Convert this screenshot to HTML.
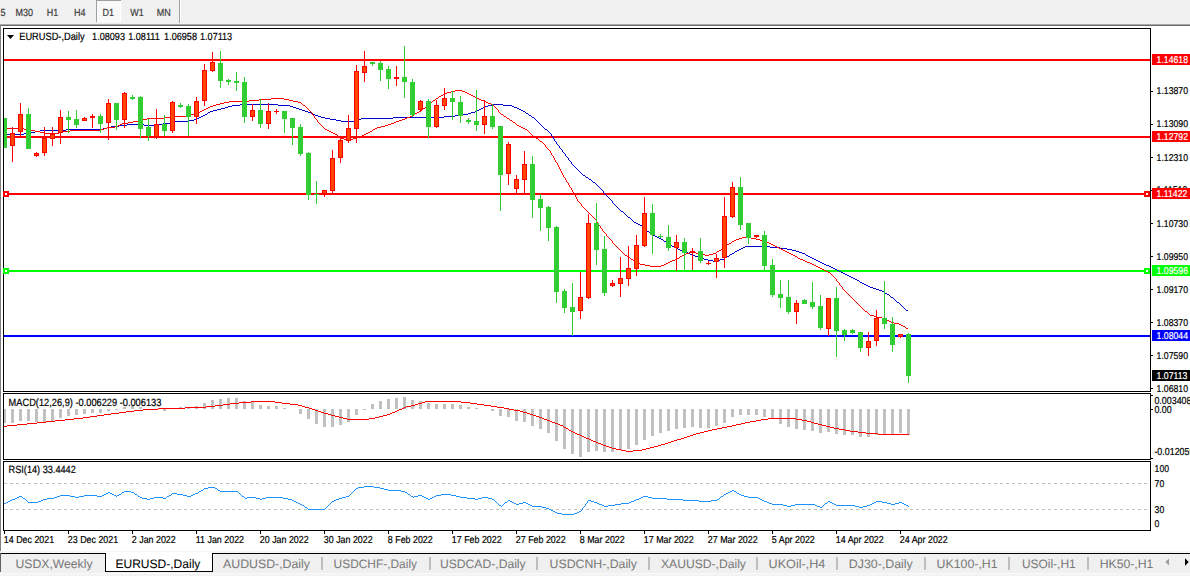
<!DOCTYPE html><html><head><meta charset="utf-8"><title>EURUSD-,Daily</title><style>html,body{margin:0;padding:0;background:#fff;overflow:hidden}svg text{white-space:pre}</style></head><body><svg width="1190" height="576" viewBox="0 0 1190 576" font-family="'Liberation Sans', sans-serif" text-rendering="geometricPrecision" style="display:block"><rect x="0" y="0" width="1190" height="576" fill="#fff"/>
<rect x="0" y="0" width="1190" height="24" fill="#f0f0f0"/>
<rect x="0" y="24" width="1190" height="1" fill="#a8a8a8"/>
<rect x="0" y="25" width="1190" height="1" fill="#696969"/>
<rect x="0" y="25" width="1" height="528" fill="#808080"/>
<rect x="96" y="0" width="25" height="22" fill="#f8f8f8"/>
<rect x="96" y="0" width="25" height="1" fill="#a0a0a0"/>
<rect x="96" y="0" width="1" height="22" fill="#a0a0a0"/>
<rect x="120" y="1" width="1" height="21" fill="#ffffff"/>
<rect x="97" y="21" width="24" height="1" fill="#ffffff"/>
<rect x="179" y="0" width="1" height="23" fill="#a0a0a0"/>
<rect x="180" y="0" width="1" height="23" fill="#ffffff"/>
<text transform="translate(0.5,15.7) scale(0.8696,1)" font-size="10.350" fill="#3c3c3c" stroke="#3c3c3c" stroke-width="0.2">5</text>
<text transform="translate(15.6,15.7) scale(0.8696,1)" font-size="10.350" fill="#3c3c3c" stroke="#3c3c3c" stroke-width="0.2">M30</text>
<text transform="translate(46.7,15.7) scale(0.8696,1)" font-size="10.350" fill="#3c3c3c" stroke="#3c3c3c" stroke-width="0.2">H1</text>
<text transform="translate(74,15.7) scale(0.8696,1)" font-size="10.350" fill="#3c3c3c" stroke="#3c3c3c" stroke-width="0.2">H4</text>
<text transform="translate(102.5,15.7) scale(0.8696,1)" font-size="10.350" fill="#3c3c3c" stroke="#3c3c3c" stroke-width="0.2">D1</text>
<text transform="translate(130.3,15.7) scale(0.8696,1)" font-size="10.350" fill="#3c3c3c" stroke="#3c3c3c" stroke-width="0.2">W1</text>
<text transform="translate(156.8,15.7) scale(0.8696,1)" font-size="10.350" fill="#3c3c3c" stroke="#3c3c3c" stroke-width="0.2">MN</text>
<rect x="3" y="28" width="1148" height="1" fill="#000"/>
<rect x="3" y="391" width="1148" height="1" fill="#000"/>
<rect x="3" y="28" width="1" height="364" fill="#000"/>
<rect x="1150" y="28" width="1" height="364" fill="#000"/>
<rect x="3" y="393" width="1148" height="1" fill="#000"/>
<rect x="3" y="459" width="1148" height="1" fill="#000"/>
<rect x="3" y="393" width="1" height="67" fill="#000"/>
<rect x="1150" y="393" width="1" height="67" fill="#000"/>
<rect x="3" y="461" width="1148" height="1" fill="#000"/>
<rect x="3" y="530" width="1148" height="1" fill="#000"/>
<rect x="3" y="461" width="1" height="70" fill="#000"/>
<rect x="1150" y="461" width="1" height="70" fill="#000"/>
<g shape-rendering="crispEdges">
<rect x="4" y="59" width="1146" height="2" fill="#ff0000"/>
<rect x="4" y="136" width="1146" height="2" fill="#ff0000"/>
<rect x="4" y="193" width="1146" height="2" fill="#ff0000"/>
<rect x="4" y="270" width="1146" height="2" fill="#00ff00"/>
<rect x="4" y="335" width="1146" height="2" fill="#0000ff"/>
</g>
<path d="M4 134h20v1h-20zM24 133h6v1h-6zM30 132h5v1h-5zM35 131h5v1h-5zM40 130h26v1h-26zM66 129h37v1h-37zM103 128h4v1h-4zM107 127h4v1h-4zM111 126h8v1h-8zM119 125h8v1h-8zM127 124h17v1h-17zM144 125h10v1h-10zM154 124h9v1h-9zM163 123h8v1h-8zM171 122h4v1h-4zM175 121h13v1h-13zM188 120h6v1h-6zM194 119h3v1h-3zM197 118h2v1h-2zM199 117h2v1h-2zM201 116h2v1h-2zM203 115h2v1h-2zM205 114h2v1h-2zM207 113h1v1h-1zM208 112h2v1h-2zM210 111h3v1h-3zM213 110h4v1h-4zM217 109h4v1h-4zM221 108h4v1h-4zM225 107h3v1h-3zM228 106h4v1h-4zM232 105h8v1h-8zM240 104h38v1h-38zM278 105h12v1h-12zM290 106h3v1h-3zM293 107h3v1h-3zM296 108h3v1h-3zM299 109h3v1h-3zM302 110h3v1h-3zM305 111h3v1h-3zM308 112h3v1h-3zM311 113h2v1h-2zM313 114h2v1h-2zM315 115h3v1h-3zM318 116h3v1h-3zM321 117h4v1h-4zM325 118h5v1h-5zM330 119h6v1h-6zM336 120h5v1h-5zM341 121h13v1h-13zM354 120h4v1h-4zM358 119h3v1h-3zM361 118h32v1h-32zM393 117h51v1h-51zM444 116h11v1h-11zM455 115h8v1h-8zM463 114h5v1h-5zM468 113h3v1h-3zM471 112h4v1h-4zM475 111h2v1h-2zM477 110h2v1h-2zM479 109h2v1h-2zM481 108h2v1h-2zM483 107h2v1h-2zM485 106h3v1h-3zM488 105h4v1h-4zM492 104h11v1h-11zM503 105h9v1h-9zM512 106h2v1h-2zM514 107h3v1h-3zM517 108h2v1h-2zM519 109h2v1h-2zM521 110h2v1h-2zM523 111h2v1h-2zM525 112h1v1h-1zM526 113h2v1h-2zM528 114h1v1h-1zM529 115h2v1h-2zM531 116h1v1h-1zM532 117h2v1h-2zM534 118h1v1h-1zM535 119h1v1h-1zM536 120h1v1h-1zM537 121h1v1h-1zM538 122h1v1h-1zM539 123h1v1h-1zM540 124h1v1h-1zM541 125h1v1h-1zM542 126h1v1h-1zM543 127h1v1h-1zM544 128h1v1h-1zM545 129h2v1h-2zM547 130h1v1h-1zM548 131h1v1h-1zM549 132h1v1h-1zM550 133h1v1h-1zM551 134h1v2h-1zM552 136h1v1h-1zM553 137h1v2h-1zM554 139h1v2h-1zM555 141h1v1h-1zM556 142h1v2h-1zM557 144h1v1h-1zM558 145h1v1h-1zM559 146h1v2h-1zM560 148h1v1h-1zM561 149h1v1h-1zM562 150h1v2h-1zM563 152h1v1h-1zM564 153h1v1h-1zM565 154h1v2h-1zM566 156h1v1h-1zM567 157h1v1h-1zM568 158h1v2h-1zM569 160h1v1h-1zM570 161h1v1h-1zM571 162h1v2h-1zM572 164h1v1h-1zM573 165h1v1h-1zM574 166h1v1h-1zM575 167h1v1h-1zM576 168h1v1h-1zM577 169h1v1h-1zM578 170h1v1h-1zM579 171h1v1h-1zM580 172h1v1h-1zM581 173h1v1h-1zM582 174h1v1h-1zM583 175h2v1h-2zM585 176h1v1h-1zM586 177h2v1h-2zM588 178h1v1h-1zM589 179h2v1h-2zM591 180h1v1h-1zM592 181h1v1h-1zM593 182h2v1h-2zM595 183h1v1h-1zM596 184h1v1h-1zM597 185h1v1h-1zM598 186h1v1h-1zM599 187h1v1h-1zM600 188h1v1h-1zM601 189h1v1h-1zM602 190h1v1h-1zM603 191h1v2h-1zM604 193h1v1h-1zM605 194h1v1h-1zM606 195h1v1h-1zM607 196h1v1h-1zM608 197h1v1h-1zM609 198h1v1h-1zM610 199h1v1h-1zM611 200h1v1h-1zM612 201h1v2h-1zM613 203h1v1h-1zM614 204h1v1h-1zM615 205h1v1h-1zM616 206h1v1h-1zM617 207h1v1h-1zM618 208h1v1h-1zM619 209h1v1h-1zM620 210h1v1h-1zM621 211h2v1h-2zM623 212h1v1h-1zM624 213h1v1h-1zM625 214h1v1h-1zM626 215h1v1h-1zM627 216h1v1h-1zM628 217h2v1h-2zM630 218h1v1h-1zM631 219h1v1h-1zM632 220h1v1h-1zM633 221h1v1h-1zM634 222h2v1h-2zM636 223h2v1h-2zM638 224h2v1h-2zM640 225h2v1h-2zM642 226h1v1h-1zM643 227h1v1h-1zM644 228h1v1h-1zM645 229h1v1h-1zM646 230h1v1h-1zM647 231h2v1h-2zM649 232h1v1h-1zM650 233h1v1h-1zM651 234h2v1h-2zM653 235h2v1h-2zM655 236h2v1h-2zM657 237h2v1h-2zM659 238h2v1h-2zM661 239h2v1h-2zM663 240h1v1h-1zM664 241h2v1h-2zM666 242h1v1h-1zM667 243h2v1h-2zM669 244h1v1h-1zM670 245h2v1h-2zM672 246h2v1h-2zM674 247h2v1h-2zM676 248h2v1h-2zM678 249h2v1h-2zM680 250h3v1h-3zM683 251h2v1h-2zM685 252h3v1h-3zM688 253h2v1h-2zM690 254h3v1h-3zM693 255h2v1h-2zM695 256h3v1h-3zM698 257h3v1h-3zM701 258h3v1h-3zM704 259h4v1h-4zM708 260h5v1h-5zM713 261h1v1h-1zM714 260h6v1h-6zM720 259h4v1h-4zM724 258h1v1h-1zM725 257h2v1h-2zM727 256h2v1h-2zM729 255h1v1h-1zM730 254h2v1h-2zM732 253h2v1h-2zM734 252h1v1h-1zM735 251h2v1h-2zM737 250h2v1h-2zM739 249h2v1h-2zM741 248h2v1h-2zM743 247h2v1h-2zM745 246h25v1h-25zM770 247h10v1h-10zM780 248h7v1h-7zM787 249h5v1h-5zM792 250h4v1h-4zM796 251h3v1h-3zM799 252h3v1h-3zM802 253h3v1h-3zM805 254h1v1h-1zM806 255h2v1h-2zM808 256h2v1h-2zM810 257h2v1h-2zM812 258h2v1h-2zM814 259h2v1h-2zM816 260h2v1h-2zM818 261h2v1h-2zM820 262h2v1h-2zM822 263h2v1h-2zM824 264h2v1h-2zM826 265h3v1h-3zM829 266h2v1h-2zM831 267h2v1h-2zM833 268h2v1h-2zM835 269h2v1h-2zM837 270h2v1h-2zM839 271h2v1h-2zM841 272h2v1h-2zM843 273h2v1h-2zM845 274h2v1h-2zM847 275h2v1h-2zM849 276h2v1h-2zM851 277h2v1h-2zM853 278h2v1h-2zM855 279h2v1h-2zM857 280h2v1h-2zM859 281h1v1h-1zM860 282h2v1h-2zM862 283h2v1h-2zM864 284h2v1h-2zM866 285h2v1h-2zM868 286h2v1h-2zM870 287h3v1h-3zM873 288h3v1h-3zM876 289h3v1h-3zM879 290h3v1h-3zM882 291h2v1h-2zM884 292h1v1h-1zM885 293h2v1h-2zM887 294h2v1h-2zM889 295h1v1h-1zM890 296h1v1h-1zM891 297h2v1h-2zM893 298h1v1h-1zM894 299h1v1h-1zM895 300h1v1h-1zM896 301h1v1h-1zM897 302h2v1h-2zM899 303h1v1h-1zM900 304h1v1h-1zM901 305h1v1h-1zM902 306h1v1h-1zM903 307h1v1h-1zM904 308h1v1h-1zM905 309h1v1h-1zM906 310h2v1h-2z" fill="#0000cd" shape-rendering="crispEdges"/>
<path d="M4 128h20v1h-20zM24 129h6v1h-6zM30 130h5v1h-5zM35 131h5v1h-5zM40 132h5v1h-5zM45 133h14v1h-14zM59 132h4v1h-4zM63 131h7v1h-7zM70 130h31v1h-31zM101 129h3v1h-3zM104 128h3v1h-3zM107 127h8v1h-8zM115 126h3v1h-3zM118 125h2v1h-2zM120 124h2v1h-2zM122 123h6v1h-6zM128 122h5v1h-5zM133 121h6v1h-6zM139 120h4v1h-4zM143 119h4v1h-4zM147 118h17v1h-17zM164 117h11v1h-11zM175 116h12v1h-12zM187 115h4v1h-4zM191 114h4v1h-4zM195 113h2v1h-2zM197 112h3v1h-3zM200 111h2v1h-2zM202 110h2v1h-2zM204 109h2v1h-2zM206 108h2v1h-2zM208 107h2v1h-2zM210 106h3v1h-3zM213 105h3v1h-3zM216 104h4v1h-4zM220 103h4v1h-4zM224 102h5v1h-5zM229 101h20v1h-20zM249 100h10v1h-10zM259 99h12v1h-12zM271 98h13v1h-13zM284 99h5v1h-5zM289 100h4v1h-4zM293 101h5v1h-5zM298 102h3v1h-3zM301 103h1v1h-1zM302 104h1v1h-1zM303 105h2v1h-2zM305 106h1v1h-1zM306 107h1v1h-1zM307 108h1v1h-1zM308 109h1v1h-1zM309 110h1v1h-1zM310 111h1v1h-1zM311 112h1v1h-1zM312 113h1v2h-1zM313 115h1v1h-1zM314 116h1v2h-1zM315 118h1v1h-1zM316 119h1v1h-1zM317 120h1v2h-1zM318 122h1v1h-1zM319 123h1v1h-1zM320 124h1v1h-1zM321 125h1v1h-1zM322 126h1v1h-1zM323 127h1v1h-1zM324 128h1v1h-1zM325 129h2v1h-2zM327 130h2v1h-2zM329 131h2v1h-2zM331 132h2v1h-2zM333 133h2v1h-2zM335 134h2v1h-2zM337 135h1v1h-1zM338 136h1v1h-1zM339 137h2v1h-2zM341 138h3v1h-3zM344 139h9v1h-9zM353 138h4v1h-4zM357 137h3v1h-3zM360 136h2v1h-2zM362 135h2v1h-2zM364 134h2v1h-2zM366 133h2v1h-2zM368 132h2v1h-2zM370 131h2v1h-2zM372 130h1v1h-1zM373 129h2v1h-2zM375 128h2v1h-2zM377 127h4v1h-4zM381 126h4v1h-4zM385 125h3v1h-3zM388 124h3v1h-3zM391 123h3v1h-3zM394 122h2v1h-2zM396 121h3v1h-3zM399 120h3v1h-3zM402 119h3v1h-3zM405 118h2v1h-2zM407 117h3v1h-3zM410 116h2v1h-2zM412 115h2v1h-2zM414 114h1v1h-1zM415 113h2v1h-2zM417 112h2v1h-2zM419 111h2v1h-2zM421 110h1v1h-1zM422 109h1v1h-1zM423 108h2v1h-2zM425 107h1v1h-1zM426 106h1v1h-1zM427 105h1v1h-1zM428 104h1v1h-1zM429 103h2v1h-2zM431 102h1v1h-1zM432 101h1v1h-1zM433 100h2v1h-2zM435 99h1v1h-1zM436 98h2v1h-2zM438 97h1v1h-1zM439 96h2v1h-2zM441 95h2v1h-2zM443 94h2v1h-2zM445 93h2v1h-2zM447 92h4v1h-4zM451 91h4v1h-4zM455 90h7v1h-7zM462 91h3v1h-3zM465 92h2v1h-2zM467 93h2v1h-2zM469 94h2v1h-2zM471 95h2v1h-2zM473 96h2v1h-2zM475 97h2v1h-2zM477 98h2v1h-2zM479 99h2v1h-2zM481 100h3v1h-3zM484 101h2v1h-2zM486 102h2v1h-2zM488 103h3v1h-3zM491 104h2v1h-2zM493 105h1v1h-1zM494 106h1v1h-1zM495 107h1v1h-1zM496 108h1v1h-1zM497 109h1v1h-1zM498 110h1v2h-1zM499 112h1v1h-1zM500 113h1v1h-1zM501 114h2v1h-2zM503 115h1v1h-1zM504 116h2v1h-2zM506 117h1v1h-1zM507 118h2v1h-2zM509 119h1v1h-1zM510 120h2v1h-2zM512 121h1v1h-1zM513 122h2v1h-2zM515 123h1v1h-1zM516 124h1v1h-1zM517 125h2v1h-2zM519 126h2v1h-2zM521 127h2v1h-2zM523 128h2v1h-2zM525 129h2v1h-2zM527 130h1v1h-1zM528 131h1v1h-1zM529 132h1v1h-1zM530 133h1v1h-1zM531 134h1v1h-1zM532 135h1v1h-1zM533 136h2v1h-2zM535 137h1v1h-1zM536 138h2v1h-2zM538 139h1v1h-1zM539 140h1v1h-1zM540 141h2v1h-2zM542 142h1v1h-1zM543 143h1v1h-1zM544 144h1v1h-1zM545 145h1v2h-1zM546 147h1v1h-1zM547 148h1v1h-1zM548 149h1v1h-1zM549 150h1v1h-1zM550 151h1v2h-1zM551 153h1v2h-1zM552 155h1v1h-1zM553 156h1v2h-1zM554 158h1v2h-1zM555 160h1v2h-1zM556 162h1v1h-1zM557 163h1v2h-1zM558 165h1v2h-1zM559 167h1v2h-1zM560 169h1v2h-1zM561 171h1v2h-1zM562 173h1v2h-1zM563 175h1v2h-1zM564 177h1v1h-1zM565 178h1v2h-1zM566 180h1v2h-1zM567 182h1v1h-1zM568 183h1v2h-1zM569 185h1v2h-1zM570 187h1v1h-1zM571 188h1v2h-1zM572 190h1v2h-1zM573 192h1v2h-1zM574 194h1v1h-1zM575 195h1v2h-1zM576 197h1v2h-1zM577 199h1v2h-1zM578 201h1v1h-1zM579 202h1v1h-1zM580 203h1v1h-1zM581 204h1v2h-1zM582 206h1v1h-1zM583 207h1v1h-1zM584 208h1v1h-1zM585 209h1v1h-1zM586 210h1v1h-1zM587 211h1v1h-1zM588 212h1v1h-1zM589 213h1v1h-1zM590 214h1v1h-1zM591 215h1v1h-1zM592 216h1v1h-1zM593 217h1v1h-1zM594 218h1v1h-1zM595 219h1v1h-1zM596 220h1v2h-1zM597 222h1v1h-1zM598 223h1v2h-1zM599 225h1v1h-1zM600 226h1v2h-1zM601 228h1v1h-1zM602 229h1v2h-1zM603 231h1v1h-1zM604 232h1v1h-1zM605 233h1v1h-1zM606 234h1v2h-1zM607 236h1v1h-1zM608 237h1v1h-1zM609 238h1v1h-1zM610 239h1v1h-1zM611 240h1v1h-1zM612 241h1v2h-1zM613 243h1v1h-1zM614 244h1v1h-1zM615 245h1v1h-1zM616 246h1v1h-1zM617 247h1v1h-1zM618 248h1v1h-1zM619 249h1v1h-1zM620 250h1v1h-1zM621 251h1v1h-1zM622 252h1v1h-1zM623 253h1v1h-1zM624 254h1v1h-1zM625 255h2v1h-2zM627 256h1v1h-1zM628 257h2v1h-2zM630 258h1v1h-1zM631 259h2v1h-2zM633 260h1v1h-1zM634 261h2v1h-2zM636 262h2v1h-2zM638 263h2v1h-2zM640 264h5v1h-5zM645 265h5v1h-5zM650 266h11v1h-11zM661 265h3v1h-3zM664 264h2v1h-2zM666 263h2v1h-2zM668 262h2v1h-2zM670 261h2v1h-2zM672 260h3v1h-3zM675 259h2v1h-2zM677 258h2v1h-2zM679 257h1v1h-1zM680 256h2v1h-2zM682 255h2v1h-2zM684 254h2v1h-2zM686 253h3v1h-3zM689 252h7v1h-7zM696 253h4v1h-4zM700 254h5v1h-5zM705 255h4v1h-4zM709 254h4v1h-4zM713 253h3v1h-3zM716 252h1v1h-1zM717 251h2v1h-2zM719 250h2v1h-2zM721 249h1v1h-1zM722 248h2v1h-2zM724 247h1v1h-1zM725 246h1v1h-1zM726 245h1v1h-1zM727 244h2v1h-2zM729 243h2v1h-2zM731 242h1v1h-1zM732 241h2v1h-2zM734 240h2v1h-2zM736 239h3v1h-3zM739 238h3v1h-3zM742 237h9v1h-9zM751 238h5v1h-5zM756 239h4v1h-4zM760 240h3v1h-3zM763 241h3v1h-3zM766 242h3v1h-3zM769 243h2v1h-2zM771 244h2v1h-2zM773 245h2v1h-2zM775 246h2v1h-2zM777 247h2v1h-2zM779 248h2v1h-2zM781 249h2v1h-2zM783 250h2v1h-2zM785 251h2v1h-2zM787 252h2v1h-2zM789 253h2v1h-2zM791 254h2v1h-2zM793 255h2v1h-2zM795 256h2v1h-2zM797 257h1v1h-1zM798 258h2v1h-2zM800 259h3v1h-3zM803 260h2v1h-2zM805 261h2v1h-2zM807 262h3v1h-3zM810 263h2v1h-2zM812 264h2v1h-2zM814 265h2v1h-2zM816 266h2v1h-2zM818 267h2v1h-2zM820 268h2v1h-2zM822 269h2v1h-2zM824 270h2v1h-2zM826 271h2v1h-2zM828 272h2v1h-2zM830 273h1v1h-1zM831 274h1v1h-1zM832 275h1v1h-1zM833 276h1v1h-1zM834 277h1v1h-1zM835 278h1v1h-1zM836 279h1v2h-1zM837 281h1v1h-1zM838 282h1v1h-1zM839 283h1v2h-1zM840 285h1v1h-1zM841 286h1v1h-1zM842 287h1v2h-1zM843 289h1v1h-1zM844 290h1v1h-1zM845 291h1v1h-1zM846 292h1v1h-1zM847 293h1v1h-1zM848 294h1v1h-1zM849 295h1v1h-1zM850 296h1v1h-1zM851 297h1v1h-1zM852 298h1v1h-1zM853 299h1v1h-1zM854 300h1v1h-1zM855 301h1v1h-1zM856 302h1v1h-1zM857 303h1v1h-1zM858 304h1v1h-1zM859 305h1v1h-1zM860 306h1v1h-1zM861 307h1v1h-1zM862 308h1v1h-1zM863 309h1v1h-1zM864 310h1v1h-1zM865 311h2v1h-2zM867 312h1v1h-1zM868 313h1v1h-1zM869 314h1v1h-1zM870 315h4v1h-4zM874 316h3v1h-3zM877 317h5v1h-5zM882 318h4v1h-4zM886 319h1v1h-1zM887 320h2v1h-2zM889 321h2v1h-2zM891 322h3v1h-3zM894 323h5v1h-5zM899 324h2v1h-2zM901 325h2v1h-2zM903 326h2v1h-2zM905 327h1v1h-1zM906 328h2v1h-2z" fill="#ff0000" shape-rendering="crispEdges"/>
<g shape-rendering="crispEdges">
<rect x="4" y="118" width="1" height="30" fill="#32cd32"/>
<rect x="4" y="118" width="3" height="30" fill="#32cd32"/>
<rect x="12" y="127" width="1" height="35" fill="#ff0000"/>
<rect x="10" y="133" width="5" height="13" fill="#ff0000"/>
<rect x="11" y="134" width="3" height="11" fill="#ff4500"/>
<rect x="20" y="103" width="1" height="34" fill="#ff0000"/>
<rect x="18" y="114" width="5" height="18" fill="#ff0000"/>
<rect x="19" y="115" width="3" height="16" fill="#ff4500"/>
<rect x="28" y="108" width="1" height="41" fill="#32cd32"/>
<rect x="26" y="114" width="5" height="35" fill="#32cd32"/>
<rect x="36" y="152" width="1" height="5" fill="#ff0000"/>
<rect x="34" y="153" width="5" height="3" fill="#ff0000"/>
<rect x="35" y="154" width="3" height="1" fill="#ff4500"/>
<rect x="44" y="127" width="1" height="29" fill="#ff0000"/>
<rect x="42" y="138" width="5" height="15" fill="#ff0000"/>
<rect x="43" y="139" width="3" height="13" fill="#ff4500"/>
<rect x="52" y="127" width="1" height="19" fill="#ff0000"/>
<rect x="50" y="134" width="5" height="5" fill="#ff0000"/>
<rect x="51" y="135" width="3" height="3" fill="#ff4500"/>
<rect x="60" y="110" width="1" height="34" fill="#ff0000"/>
<rect x="58" y="117" width="5" height="16" fill="#ff0000"/>
<rect x="59" y="118" width="3" height="14" fill="#ff4500"/>
<rect x="68" y="111" width="1" height="22" fill="#32cd32"/>
<rect x="66" y="117" width="5" height="3" fill="#32cd32"/>
<rect x="76" y="110" width="1" height="18" fill="#32cd32"/>
<rect x="74" y="119" width="5" height="6" fill="#32cd32"/>
<rect x="84" y="117" width="1" height="4" fill="#ff0000"/>
<rect x="82" y="118" width="5" height="3" fill="#ff0000"/>
<rect x="83" y="119" width="3" height="1" fill="#ff4500"/>
<rect x="92" y="114" width="1" height="14" fill="#ff0000"/>
<rect x="90" y="116" width="5" height="2" fill="#ff0000"/>
<rect x="100" y="114" width="1" height="19" fill="#32cd32"/>
<rect x="98" y="116" width="5" height="8" fill="#32cd32"/>
<rect x="108" y="99" width="1" height="41" fill="#ff0000"/>
<rect x="106" y="103" width="5" height="20" fill="#ff0000"/>
<rect x="107" y="104" width="3" height="18" fill="#ff4500"/>
<rect x="116" y="103" width="1" height="27" fill="#32cd32"/>
<rect x="114" y="103" width="5" height="17" fill="#32cd32"/>
<rect x="124" y="92" width="1" height="36" fill="#ff0000"/>
<rect x="122" y="93" width="5" height="27" fill="#ff0000"/>
<rect x="123" y="94" width="3" height="25" fill="#ff4500"/>
<rect x="132" y="95" width="1" height="5" fill="#32cd32"/>
<rect x="130" y="97" width="5" height="2" fill="#32cd32"/>
<rect x="140" y="96" width="1" height="42" fill="#32cd32"/>
<rect x="138" y="97" width="5" height="32" fill="#32cd32"/>
<rect x="148" y="119" width="1" height="22" fill="#32cd32"/>
<rect x="146" y="127" width="5" height="9" fill="#32cd32"/>
<rect x="156" y="109" width="1" height="30" fill="#ff0000"/>
<rect x="154" y="124" width="5" height="13" fill="#ff0000"/>
<rect x="155" y="125" width="3" height="11" fill="#ff4500"/>
<rect x="164" y="115" width="1" height="21" fill="#32cd32"/>
<rect x="162" y="124" width="5" height="7" fill="#32cd32"/>
<rect x="172" y="101" width="1" height="32" fill="#ff0000"/>
<rect x="170" y="102" width="5" height="29" fill="#ff0000"/>
<rect x="171" y="103" width="3" height="27" fill="#ff4500"/>
<rect x="180" y="103" width="1" height="5" fill="#32cd32"/>
<rect x="178" y="105" width="5" height="2" fill="#32cd32"/>
<rect x="188" y="104" width="1" height="32" fill="#32cd32"/>
<rect x="186" y="106" width="5" height="11" fill="#32cd32"/>
<rect x="196" y="97" width="1" height="27" fill="#ff0000"/>
<rect x="194" y="101" width="5" height="16" fill="#ff0000"/>
<rect x="195" y="102" width="3" height="14" fill="#ff4500"/>
<rect x="204" y="64" width="1" height="42" fill="#ff0000"/>
<rect x="202" y="70" width="5" height="31" fill="#ff0000"/>
<rect x="203" y="71" width="3" height="29" fill="#ff4500"/>
<rect x="212" y="52" width="1" height="20" fill="#ff0000"/>
<rect x="210" y="62" width="5" height="9" fill="#ff0000"/>
<rect x="211" y="63" width="3" height="7" fill="#ff4500"/>
<rect x="220" y="51" width="1" height="37" fill="#32cd32"/>
<rect x="218" y="63" width="5" height="18" fill="#32cd32"/>
<rect x="228" y="79" width="1" height="6" fill="#32cd32"/>
<rect x="226" y="80" width="5" height="2" fill="#32cd32"/>
<rect x="236" y="72" width="1" height="19" fill="#32cd32"/>
<rect x="234" y="81" width="5" height="2" fill="#32cd32"/>
<rect x="244" y="77" width="1" height="46" fill="#32cd32"/>
<rect x="242" y="82" width="5" height="35" fill="#32cd32"/>
<rect x="252" y="104" width="1" height="17" fill="#ff0000"/>
<rect x="250" y="110" width="5" height="7" fill="#ff0000"/>
<rect x="251" y="111" width="3" height="5" fill="#ff4500"/>
<rect x="260" y="99" width="1" height="29" fill="#32cd32"/>
<rect x="258" y="110" width="5" height="14" fill="#32cd32"/>
<rect x="268" y="103" width="1" height="26" fill="#ff0000"/>
<rect x="266" y="111" width="5" height="13" fill="#ff0000"/>
<rect x="267" y="112" width="3" height="11" fill="#ff4500"/>
<rect x="276" y="109" width="1" height="5" fill="#ff0000"/>
<rect x="274" y="111" width="5" height="1" fill="#ff0000"/>
<rect x="284" y="111" width="1" height="22" fill="#32cd32"/>
<rect x="282" y="111" width="5" height="8" fill="#32cd32"/>
<rect x="292" y="118" width="1" height="27" fill="#32cd32"/>
<rect x="290" y="118" width="5" height="10" fill="#32cd32"/>
<rect x="300" y="124" width="1" height="32" fill="#32cd32"/>
<rect x="298" y="127" width="5" height="27" fill="#32cd32"/>
<rect x="308" y="152" width="1" height="48" fill="#32cd32"/>
<rect x="306" y="153" width="5" height="42" fill="#32cd32"/>
<rect x="316" y="181" width="1" height="23" fill="#32cd32"/>
<rect x="314" y="194" width="5" height="1" fill="#32cd32"/>
<rect x="324" y="190" width="1" height="7" fill="#ff0000"/>
<rect x="322" y="190" width="5" height="4" fill="#ff0000"/>
<rect x="323" y="191" width="3" height="2" fill="#ff4500"/>
<rect x="332" y="150" width="1" height="43" fill="#ff0000"/>
<rect x="330" y="158" width="5" height="33" fill="#ff0000"/>
<rect x="331" y="159" width="3" height="31" fill="#ff4500"/>
<rect x="340" y="138" width="1" height="25" fill="#ff0000"/>
<rect x="338" y="140" width="5" height="18" fill="#ff0000"/>
<rect x="339" y="141" width="3" height="16" fill="#ff4500"/>
<rect x="348" y="115" width="1" height="28" fill="#ff0000"/>
<rect x="346" y="128" width="5" height="13" fill="#ff0000"/>
<rect x="347" y="129" width="3" height="11" fill="#ff4500"/>
<rect x="356" y="65" width="1" height="78" fill="#ff0000"/>
<rect x="354" y="71" width="5" height="58" fill="#ff0000"/>
<rect x="355" y="72" width="3" height="56" fill="#ff4500"/>
<rect x="364" y="51" width="1" height="31" fill="#ff0000"/>
<rect x="362" y="66" width="5" height="7" fill="#ff0000"/>
<rect x="363" y="67" width="3" height="5" fill="#ff4500"/>
<rect x="372" y="62" width="1" height="4" fill="#32cd32"/>
<rect x="370" y="62" width="5" height="2" fill="#32cd32"/>
<rect x="380" y="61" width="1" height="20" fill="#32cd32"/>
<rect x="378" y="63" width="5" height="7" fill="#32cd32"/>
<rect x="388" y="66" width="1" height="23" fill="#32cd32"/>
<rect x="386" y="69" width="5" height="10" fill="#32cd32"/>
<rect x="396" y="66" width="1" height="20" fill="#ff0000"/>
<rect x="394" y="77" width="5" height="2" fill="#ff0000"/>
<rect x="404" y="46" width="1" height="52" fill="#32cd32"/>
<rect x="402" y="77" width="5" height="5" fill="#32cd32"/>
<rect x="412" y="79" width="1" height="38" fill="#32cd32"/>
<rect x="410" y="82" width="5" height="33" fill="#32cd32"/>
<rect x="420" y="100" width="1" height="12" fill="#ff0000"/>
<rect x="418" y="101" width="5" height="9" fill="#ff0000"/>
<rect x="419" y="102" width="3" height="7" fill="#ff4500"/>
<rect x="428" y="99" width="1" height="39" fill="#32cd32"/>
<rect x="426" y="101" width="5" height="26" fill="#32cd32"/>
<rect x="436" y="100" width="1" height="28" fill="#ff0000"/>
<rect x="434" y="105" width="5" height="22" fill="#ff0000"/>
<rect x="435" y="106" width="3" height="20" fill="#ff4500"/>
<rect x="444" y="88" width="1" height="22" fill="#ff0000"/>
<rect x="442" y="98" width="5" height="8" fill="#ff0000"/>
<rect x="443" y="99" width="3" height="6" fill="#ff4500"/>
<rect x="452" y="91" width="1" height="29" fill="#32cd32"/>
<rect x="450" y="98" width="5" height="4" fill="#32cd32"/>
<rect x="460" y="96" width="1" height="27" fill="#32cd32"/>
<rect x="458" y="102" width="5" height="14" fill="#32cd32"/>
<rect x="468" y="118" width="1" height="6" fill="#32cd32"/>
<rect x="466" y="120" width="5" height="2" fill="#32cd32"/>
<rect x="476" y="90" width="1" height="41" fill="#32cd32"/>
<rect x="474" y="121" width="5" height="4" fill="#32cd32"/>
<rect x="484" y="100" width="1" height="34" fill="#ff0000"/>
<rect x="482" y="116" width="5" height="9" fill="#ff0000"/>
<rect x="483" y="117" width="3" height="7" fill="#ff4500"/>
<rect x="492" y="104" width="1" height="25" fill="#32cd32"/>
<rect x="490" y="116" width="5" height="11" fill="#32cd32"/>
<rect x="500" y="126" width="1" height="85" fill="#32cd32"/>
<rect x="498" y="126" width="5" height="49" fill="#32cd32"/>
<rect x="508" y="142" width="1" height="43" fill="#ff0000"/>
<rect x="506" y="144" width="5" height="30" fill="#ff0000"/>
<rect x="507" y="145" width="3" height="28" fill="#ff4500"/>
<rect x="516" y="175" width="1" height="18" fill="#ff0000"/>
<rect x="514" y="179" width="5" height="10" fill="#ff0000"/>
<rect x="515" y="180" width="3" height="8" fill="#ff4500"/>
<rect x="524" y="151" width="1" height="44" fill="#ff0000"/>
<rect x="522" y="164" width="5" height="16" fill="#ff0000"/>
<rect x="523" y="165" width="3" height="14" fill="#ff4500"/>
<rect x="532" y="156" width="1" height="62" fill="#32cd32"/>
<rect x="530" y="164" width="5" height="36" fill="#32cd32"/>
<rect x="540" y="194" width="1" height="37" fill="#32cd32"/>
<rect x="538" y="199" width="5" height="9" fill="#32cd32"/>
<rect x="548" y="206" width="1" height="35" fill="#32cd32"/>
<rect x="546" y="207" width="5" height="21" fill="#32cd32"/>
<rect x="556" y="226" width="1" height="77" fill="#32cd32"/>
<rect x="554" y="227" width="5" height="65" fill="#32cd32"/>
<rect x="564" y="289" width="1" height="24" fill="#32cd32"/>
<rect x="562" y="291" width="5" height="17" fill="#32cd32"/>
<rect x="572" y="283" width="1" height="53" fill="#32cd32"/>
<rect x="570" y="307" width="5" height="5" fill="#32cd32"/>
<rect x="580" y="272" width="1" height="47" fill="#ff0000"/>
<rect x="578" y="297" width="5" height="14" fill="#ff0000"/>
<rect x="579" y="298" width="3" height="12" fill="#ff4500"/>
<rect x="588" y="214" width="1" height="85" fill="#ff0000"/>
<rect x="586" y="223" width="5" height="75" fill="#ff0000"/>
<rect x="587" y="224" width="3" height="73" fill="#ff4500"/>
<rect x="596" y="203" width="1" height="62" fill="#32cd32"/>
<rect x="594" y="223" width="5" height="27" fill="#32cd32"/>
<rect x="604" y="236" width="1" height="60" fill="#32cd32"/>
<rect x="602" y="249" width="5" height="44" fill="#32cd32"/>
<rect x="612" y="280" width="1" height="7" fill="#ff0000"/>
<rect x="610" y="283" width="5" height="3" fill="#ff0000"/>
<rect x="611" y="284" width="3" height="1" fill="#ff4500"/>
<rect x="620" y="257" width="1" height="40" fill="#ff0000"/>
<rect x="618" y="278" width="5" height="6" fill="#ff0000"/>
<rect x="619" y="279" width="3" height="4" fill="#ff4500"/>
<rect x="628" y="246" width="1" height="40" fill="#ff0000"/>
<rect x="626" y="268" width="5" height="11" fill="#ff0000"/>
<rect x="627" y="269" width="3" height="9" fill="#ff4500"/>
<rect x="636" y="235" width="1" height="41" fill="#ff0000"/>
<rect x="634" y="245" width="5" height="24" fill="#ff0000"/>
<rect x="635" y="246" width="3" height="22" fill="#ff4500"/>
<rect x="644" y="197" width="1" height="50" fill="#ff0000"/>
<rect x="642" y="213" width="5" height="33" fill="#ff0000"/>
<rect x="643" y="214" width="3" height="31" fill="#ff4500"/>
<rect x="652" y="204" width="1" height="50" fill="#32cd32"/>
<rect x="650" y="213" width="5" height="22" fill="#32cd32"/>
<rect x="660" y="234" width="1" height="4" fill="#32cd32"/>
<rect x="658" y="236" width="5" height="1" fill="#32cd32"/>
<rect x="668" y="225" width="1" height="26" fill="#32cd32"/>
<rect x="666" y="237" width="5" height="11" fill="#32cd32"/>
<rect x="676" y="235" width="1" height="36" fill="#ff0000"/>
<rect x="674" y="242" width="5" height="6" fill="#ff0000"/>
<rect x="675" y="243" width="3" height="4" fill="#ff4500"/>
<rect x="684" y="238" width="1" height="33" fill="#32cd32"/>
<rect x="682" y="242" width="5" height="11" fill="#32cd32"/>
<rect x="692" y="248" width="1" height="22" fill="#ff0000"/>
<rect x="690" y="251" width="5" height="1" fill="#ff0000"/>
<rect x="700" y="238" width="1" height="25" fill="#32cd32"/>
<rect x="698" y="251" width="5" height="10" fill="#32cd32"/>
<rect x="708" y="261" width="1" height="4" fill="#ff0000"/>
<rect x="706" y="263" width="5" height="1" fill="#ff0000"/>
<rect x="716" y="254" width="1" height="24" fill="#ff0000"/>
<rect x="714" y="258" width="5" height="4" fill="#ff0000"/>
<rect x="715" y="259" width="3" height="2" fill="#ff4500"/>
<rect x="724" y="197" width="1" height="71" fill="#ff0000"/>
<rect x="722" y="216" width="5" height="42" fill="#ff0000"/>
<rect x="723" y="217" width="3" height="40" fill="#ff4500"/>
<rect x="732" y="182" width="1" height="36" fill="#ff0000"/>
<rect x="730" y="187" width="5" height="30" fill="#ff0000"/>
<rect x="731" y="188" width="3" height="28" fill="#ff4500"/>
<rect x="740" y="177" width="1" height="53" fill="#32cd32"/>
<rect x="738" y="187" width="5" height="38" fill="#32cd32"/>
<rect x="748" y="223" width="1" height="21" fill="#32cd32"/>
<rect x="746" y="223" width="5" height="15" fill="#32cd32"/>
<rect x="756" y="235" width="1" height="3" fill="#ff0000"/>
<rect x="754" y="235" width="5" height="2" fill="#ff0000"/>
<rect x="764" y="231" width="1" height="40" fill="#32cd32"/>
<rect x="762" y="235" width="5" height="31" fill="#32cd32"/>
<rect x="772" y="259" width="1" height="38" fill="#32cd32"/>
<rect x="770" y="265" width="5" height="30" fill="#32cd32"/>
<rect x="780" y="280" width="1" height="28" fill="#32cd32"/>
<rect x="778" y="294" width="5" height="4" fill="#32cd32"/>
<rect x="788" y="280" width="1" height="34" fill="#32cd32"/>
<rect x="786" y="297" width="5" height="15" fill="#32cd32"/>
<rect x="796" y="300" width="1" height="24" fill="#ff0000"/>
<rect x="794" y="303" width="5" height="9" fill="#ff0000"/>
<rect x="795" y="304" width="3" height="7" fill="#ff4500"/>
<rect x="804" y="299" width="1" height="5" fill="#32cd32"/>
<rect x="802" y="300" width="5" height="4" fill="#32cd32"/>
<rect x="812" y="282" width="1" height="27" fill="#32cd32"/>
<rect x="810" y="302" width="5" height="5" fill="#32cd32"/>
<rect x="820" y="295" width="1" height="35" fill="#32cd32"/>
<rect x="818" y="306" width="5" height="22" fill="#32cd32"/>
<rect x="828" y="298" width="1" height="38" fill="#ff0000"/>
<rect x="826" y="298" width="5" height="31" fill="#ff0000"/>
<rect x="827" y="299" width="3" height="29" fill="#ff4500"/>
<rect x="836" y="287" width="1" height="70" fill="#32cd32"/>
<rect x="834" y="298" width="5" height="33" fill="#32cd32"/>
<rect x="844" y="329" width="1" height="12" fill="#32cd32"/>
<rect x="842" y="330" width="5" height="5" fill="#32cd32"/>
<rect x="852" y="329" width="1" height="5" fill="#32cd32"/>
<rect x="850" y="330" width="5" height="3" fill="#32cd32"/>
<rect x="860" y="332" width="1" height="20" fill="#32cd32"/>
<rect x="858" y="332" width="5" height="16" fill="#32cd32"/>
<rect x="868" y="332" width="1" height="24" fill="#ff0000"/>
<rect x="866" y="341" width="5" height="7" fill="#ff0000"/>
<rect x="867" y="342" width="3" height="5" fill="#ff4500"/>
<rect x="876" y="310" width="1" height="36" fill="#ff0000"/>
<rect x="874" y="318" width="5" height="23" fill="#ff0000"/>
<rect x="875" y="319" width="3" height="21" fill="#ff4500"/>
<rect x="884" y="281" width="1" height="48" fill="#32cd32"/>
<rect x="882" y="318" width="5" height="6" fill="#32cd32"/>
<rect x="892" y="317" width="1" height="35" fill="#32cd32"/>
<rect x="890" y="324" width="5" height="21" fill="#32cd32"/>
<rect x="900" y="334" width="1" height="4" fill="#ff0000"/>
<rect x="898" y="334" width="5" height="3" fill="#ff0000"/>
<rect x="899" y="335" width="3" height="1" fill="#ff4500"/>
<rect x="908" y="333" width="1" height="50" fill="#32cd32"/>
<rect x="906" y="334" width="5" height="42" fill="#32cd32"/>
</g>
<rect x="1151" y="190" width="2" height="1" fill="#000"/>
<text transform="translate(1156.6,193.3) scale(0.8772,1)" font-size="9.918" fill="#000" stroke="#000" stroke-width="0.2">1.11510</text>
<g shape-rendering="crispEdges">
<rect x="1152" y="54" width="40" height="11" fill="#ff0000"/>
<rect x="1152" y="131" width="40" height="11" fill="#ff0000"/>
<rect x="1152" y="188" width="40" height="11" fill="#ff0000"/>
<rect x="3" y="191" width="6" height="6" fill="#ff0000"/>
<rect x="5" y="193" width="2" height="2" fill="#fff"/>
<rect x="1144" y="191" width="6" height="6" fill="#ff0000"/>
<rect x="1146" y="193" width="2" height="2" fill="#fff"/>
<rect x="1152" y="265" width="40" height="11" fill="#00ff00"/>
<rect x="3" y="268" width="6" height="6" fill="#00ff00"/>
<rect x="5" y="270" width="2" height="2" fill="#fff"/>
<rect x="1144" y="268" width="6" height="6" fill="#00ff00"/>
<rect x="1146" y="270" width="2" height="2" fill="#fff"/>
<rect x="1152" y="330" width="40" height="11" fill="#0000ff"/>
<rect x="1152" y="370" width="40" height="11" fill="#000"/>
</g>
<text transform="translate(1156.6,63) scale(0.8772,1)" font-size="9.918" fill="#fff" stroke="#fff" stroke-width="0.2">1.14618</text>
<text transform="translate(1156.6,140) scale(0.8772,1)" font-size="9.918" fill="#fff" stroke="#fff" stroke-width="0.2">1.12792</text>
<text transform="translate(1156.6,197) scale(0.8772,1)" font-size="9.918" fill="#fff" stroke="#fff" stroke-width="0.2">1.11422</text>
<text transform="translate(1156.6,274) scale(0.8772,1)" font-size="9.918" fill="#fff" stroke="#fff" stroke-width="0.2">1.09596</text>
<text transform="translate(1156.6,339) scale(0.8772,1)" font-size="9.918" fill="#fff" stroke="#fff" stroke-width="0.2">1.08044</text>
<text transform="translate(1156.6,378.9) scale(0.8772,1)" font-size="9.918" fill="#fff" stroke="#fff" stroke-width="0.2">1.07113</text>
<rect x="1151" y="91" width="2" height="1" fill="#000"/>
<text transform="translate(1156.6,94.3) scale(0.8772,1)" font-size="9.918" fill="#000" stroke="#000" stroke-width="0.2">1.13870</text>
<rect x="1151" y="124" width="2" height="1" fill="#000"/>
<text transform="translate(1156.6,127.3) scale(0.8772,1)" font-size="9.918" fill="#000" stroke="#000" stroke-width="0.2">1.13090</text>
<rect x="1151" y="157" width="2" height="1" fill="#000"/>
<text transform="translate(1156.6,160.8) scale(0.8772,1)" font-size="9.918" fill="#000" stroke="#000" stroke-width="0.2">1.12310</text>
<rect x="1151" y="223" width="2" height="1" fill="#000"/>
<text transform="translate(1156.6,226.8) scale(0.8772,1)" font-size="9.918" fill="#000" stroke="#000" stroke-width="0.2">1.10730</text>
<rect x="1151" y="256" width="2" height="1" fill="#000"/>
<text transform="translate(1156.6,259.7) scale(0.8772,1)" font-size="9.918" fill="#000" stroke="#000" stroke-width="0.2">1.09950</text>
<rect x="1151" y="289" width="2" height="1" fill="#000"/>
<text transform="translate(1156.6,292.6) scale(0.8772,1)" font-size="9.918" fill="#000" stroke="#000" stroke-width="0.2">1.09170</text>
<rect x="1151" y="322" width="2" height="1" fill="#000"/>
<text transform="translate(1156.6,325.9) scale(0.8772,1)" font-size="9.918" fill="#000" stroke="#000" stroke-width="0.2">1.08370</text>
<rect x="1151" y="355" width="2" height="1" fill="#000"/>
<text transform="translate(1156.6,358.7) scale(0.8772,1)" font-size="9.918" fill="#000" stroke="#000" stroke-width="0.2">1.07590</text>
<rect x="1151" y="388" width="2" height="1" fill="#000"/>
<text transform="translate(1156.6,391.5) scale(0.8772,1)" font-size="9.918" fill="#000" stroke="#000" stroke-width="0.2">1.06810</text>
<polygon points="7,35 14,35 10.5,39" fill="#000"/>
<text transform="translate(19.2,40.1) scale(0.8772,1)" font-size="10.579" fill="#000" stroke="#000" stroke-width="0.2">EURUSD-,Daily</text>
<text transform="translate(92.1,40.1) scale(0.8772,1)" font-size="10.374" fill="#000" stroke="#000" stroke-width="0.2">1.08093</text>
<text transform="translate(128.2,40.1) scale(0.8772,1)" font-size="10.374" fill="#000" stroke="#000" stroke-width="0.2">1.08111</text>
<text transform="translate(164.1,40.1) scale(0.8772,1)" font-size="10.374" fill="#000" stroke="#000" stroke-width="0.2">1.06958</text>
<text transform="translate(200,40.1) scale(0.8772,1)" font-size="10.374" fill="#000" stroke="#000" stroke-width="0.2">1.07113</text>
<g shape-rendering="crispEdges">
<rect x="4" y="409" width="2" height="14" fill="#c0c0c0"/>
<rect x="11" y="409" width="3" height="14" fill="#c0c0c0"/>
<rect x="19" y="409" width="3" height="12" fill="#c0c0c0"/>
<rect x="27" y="409" width="3" height="12" fill="#c0c0c0"/>
<rect x="35" y="409" width="3" height="13" fill="#c0c0c0"/>
<rect x="43" y="409" width="3" height="13" fill="#c0c0c0"/>
<rect x="51" y="409" width="3" height="12" fill="#c0c0c0"/>
<rect x="59" y="409" width="3" height="9" fill="#c0c0c0"/>
<rect x="67" y="409" width="3" height="7" fill="#c0c0c0"/>
<rect x="75" y="409" width="3" height="6" fill="#c0c0c0"/>
<rect x="83" y="409" width="3" height="5" fill="#c0c0c0"/>
<rect x="91" y="409" width="3" height="4" fill="#c0c0c0"/>
<rect x="99" y="409" width="3" height="4" fill="#c0c0c0"/>
<rect x="107" y="409" width="3" height="2" fill="#c0c0c0"/>
<rect x="115" y="409" width="3" height="1" fill="#c0c0c0"/>
<rect x="123" y="407" width="3" height="2" fill="#c0c0c0"/>
<rect x="131" y="406" width="3" height="3" fill="#c0c0c0"/>
<rect x="139" y="407" width="3" height="2" fill="#c0c0c0"/>
<rect x="163" y="409" width="3" height="2" fill="#c0c0c0"/>
<rect x="179" y="407" width="3" height="2" fill="#c0c0c0"/>
<rect x="187" y="407" width="3" height="2" fill="#c0c0c0"/>
<rect x="195" y="406" width="3" height="3" fill="#c0c0c0"/>
<rect x="203" y="403" width="3" height="6" fill="#c0c0c0"/>
<rect x="211" y="400" width="3" height="9" fill="#c0c0c0"/>
<rect x="219" y="399" width="3" height="10" fill="#c0c0c0"/>
<rect x="227" y="398" width="3" height="11" fill="#c0c0c0"/>
<rect x="235" y="398" width="3" height="11" fill="#c0c0c0"/>
<rect x="243" y="401" width="3" height="8" fill="#c0c0c0"/>
<rect x="251" y="402" width="3" height="7" fill="#c0c0c0"/>
<rect x="259" y="405" width="3" height="4" fill="#c0c0c0"/>
<rect x="267" y="406" width="3" height="3" fill="#c0c0c0"/>
<rect x="275" y="406" width="3" height="3" fill="#c0c0c0"/>
<rect x="283" y="408" width="3" height="1" fill="#c0c0c0"/>
<rect x="299" y="409" width="3" height="5" fill="#c0c0c0"/>
<rect x="307" y="409" width="3" height="10" fill="#c0c0c0"/>
<rect x="315" y="409" width="3" height="15" fill="#c0c0c0"/>
<rect x="323" y="409" width="3" height="18" fill="#c0c0c0"/>
<rect x="331" y="409" width="3" height="18" fill="#c0c0c0"/>
<rect x="339" y="409" width="3" height="16" fill="#c0c0c0"/>
<rect x="347" y="409" width="3" height="13" fill="#c0c0c0"/>
<rect x="355" y="409" width="3" height="6" fill="#c0c0c0"/>
<rect x="363" y="409" width="3" height="1" fill="#c0c0c0"/>
<rect x="371" y="404" width="3" height="5" fill="#c0c0c0"/>
<rect x="379" y="401" width="3" height="8" fill="#c0c0c0"/>
<rect x="387" y="399" width="3" height="10" fill="#c0c0c0"/>
<rect x="395" y="398" width="3" height="11" fill="#c0c0c0"/>
<rect x="403" y="397" width="3" height="12" fill="#c0c0c0"/>
<rect x="411" y="400" width="3" height="9" fill="#c0c0c0"/>
<rect x="419" y="401" width="3" height="8" fill="#c0c0c0"/>
<rect x="427" y="403" width="3" height="6" fill="#c0c0c0"/>
<rect x="435" y="404" width="3" height="5" fill="#c0c0c0"/>
<rect x="443" y="404" width="3" height="5" fill="#c0c0c0"/>
<rect x="451" y="404" width="3" height="5" fill="#c0c0c0"/>
<rect x="459" y="405" width="3" height="4" fill="#c0c0c0"/>
<rect x="467" y="407" width="3" height="2" fill="#c0c0c0"/>
<rect x="475" y="408" width="3" height="1" fill="#c0c0c0"/>
<rect x="491" y="409" width="3" height="2" fill="#c0c0c0"/>
<rect x="499" y="409" width="3" height="7" fill="#c0c0c0"/>
<rect x="507" y="409" width="3" height="8" fill="#c0c0c0"/>
<rect x="515" y="409" width="3" height="12" fill="#c0c0c0"/>
<rect x="523" y="409" width="3" height="13" fill="#c0c0c0"/>
<rect x="531" y="409" width="3" height="17" fill="#c0c0c0"/>
<rect x="539" y="409" width="3" height="20" fill="#c0c0c0"/>
<rect x="547" y="409" width="3" height="24" fill="#c0c0c0"/>
<rect x="555" y="409" width="3" height="32" fill="#c0c0c0"/>
<rect x="563" y="409" width="3" height="40" fill="#c0c0c0"/>
<rect x="571" y="409" width="3" height="45" fill="#c0c0c0"/>
<rect x="579" y="409" width="3" height="48" fill="#c0c0c0"/>
<rect x="587" y="409" width="3" height="43" fill="#c0c0c0"/>
<rect x="595" y="409" width="3" height="42" fill="#c0c0c0"/>
<rect x="603" y="409" width="3" height="43" fill="#c0c0c0"/>
<rect x="611" y="409" width="3" height="43" fill="#c0c0c0"/>
<rect x="619" y="409" width="3" height="41" fill="#c0c0c0"/>
<rect x="627" y="409" width="3" height="40" fill="#c0c0c0"/>
<rect x="635" y="409" width="3" height="36" fill="#c0c0c0"/>
<rect x="643" y="409" width="3" height="31" fill="#c0c0c0"/>
<rect x="651" y="409" width="3" height="27" fill="#c0c0c0"/>
<rect x="659" y="409" width="3" height="24" fill="#c0c0c0"/>
<rect x="667" y="409" width="3" height="22" fill="#c0c0c0"/>
<rect x="675" y="409" width="3" height="20" fill="#c0c0c0"/>
<rect x="683" y="409" width="3" height="19" fill="#c0c0c0"/>
<rect x="691" y="409" width="3" height="18" fill="#c0c0c0"/>
<rect x="699" y="409" width="3" height="19" fill="#c0c0c0"/>
<rect x="707" y="409" width="3" height="19" fill="#c0c0c0"/>
<rect x="715" y="409" width="3" height="17" fill="#c0c0c0"/>
<rect x="723" y="409" width="3" height="14" fill="#c0c0c0"/>
<rect x="731" y="409" width="3" height="8" fill="#c0c0c0"/>
<rect x="739" y="409" width="3" height="6" fill="#c0c0c0"/>
<rect x="747" y="409" width="3" height="6" fill="#c0c0c0"/>
<rect x="755" y="409" width="3" height="6" fill="#c0c0c0"/>
<rect x="763" y="409" width="3" height="8" fill="#c0c0c0"/>
<rect x="771" y="409" width="3" height="10" fill="#c0c0c0"/>
<rect x="779" y="409" width="3" height="15" fill="#c0c0c0"/>
<rect x="787" y="409" width="3" height="18" fill="#c0c0c0"/>
<rect x="795" y="409" width="3" height="20" fill="#c0c0c0"/>
<rect x="803" y="409" width="3" height="21" fill="#c0c0c0"/>
<rect x="811" y="409" width="3" height="22" fill="#c0c0c0"/>
<rect x="819" y="409" width="3" height="24" fill="#c0c0c0"/>
<rect x="827" y="409" width="3" height="23" fill="#c0c0c0"/>
<rect x="835" y="409" width="3" height="25" fill="#c0c0c0"/>
<rect x="843" y="409" width="3" height="26" fill="#c0c0c0"/>
<rect x="851" y="409" width="3" height="26" fill="#c0c0c0"/>
<rect x="859" y="409" width="3" height="28" fill="#c0c0c0"/>
<rect x="867" y="409" width="3" height="28" fill="#c0c0c0"/>
<rect x="875" y="409" width="3" height="26" fill="#c0c0c0"/>
<rect x="883" y="409" width="3" height="25" fill="#c0c0c0"/>
<rect x="891" y="409" width="3" height="25" fill="#c0c0c0"/>
<rect x="899" y="409" width="3" height="24" fill="#c0c0c0"/>
<rect x="907" y="409" width="3" height="26" fill="#c0c0c0"/>
</g>
<path d="M4 426h3v1h-3zM7 425h10v1h-10zM17 424h10v1h-10zM27 423h10v1h-10zM37 422h9v1h-9zM46 421h9v1h-9zM55 420h10v1h-10zM65 419h9v1h-9zM74 418h9v1h-9zM83 417h7v1h-7zM90 416h7v1h-7zM97 415h7v1h-7zM104 414h7v1h-7zM111 413h8v1h-8zM119 412h7v1h-7zM126 411h8v1h-8zM134 410h9v1h-9zM143 409h15v1h-15zM158 408h27v1h-27zM185 407h21v1h-21zM206 406h9v1h-9zM215 405h8v1h-8zM223 404h7v1h-7zM230 403h9v1h-9zM239 402h12v1h-12zM251 401h24v1h-24zM275 402h7v1h-7zM282 403h8v1h-8zM290 404h8v1h-8zM298 405h4v1h-4zM302 406h3v1h-3zM305 407h4v1h-4zM309 408h3v1h-3zM312 409h3v1h-3zM315 410h3v1h-3zM318 411h3v1h-3zM321 412h3v1h-3zM324 413h4v1h-4zM328 414h3v1h-3zM331 415h4v1h-4zM335 416h4v1h-4zM339 417h4v1h-4zM343 418h4v1h-4zM347 419h22v1h-22zM369 418h6v1h-6zM375 417h4v1h-4zM379 416h4v1h-4zM383 415h4v1h-4zM387 414h3v1h-3zM390 413h2v1h-2zM392 412h3v1h-3zM395 411h2v1h-2zM397 410h2v1h-2zM399 409h3v1h-3zM402 408h2v1h-2zM404 407h2v1h-2zM406 406h5v1h-5zM411 405h4v1h-4zM415 404h3v1h-3zM418 403h4v1h-4zM422 402h3v1h-3zM425 401h36v1h-36zM461 402h9v1h-9zM470 403h7v1h-7zM477 404h7v1h-7zM484 405h7v1h-7zM491 406h6v1h-6zM497 407h7v1h-7zM504 408h5v1h-5zM509 409h5v1h-5zM514 410h6v1h-6zM520 411h3v1h-3zM523 412h4v1h-4zM527 413h3v1h-3zM530 414h3v1h-3zM533 415h3v1h-3zM536 416h3v1h-3zM539 417h3v1h-3zM542 418h2v1h-2zM544 419h3v1h-3zM547 420h3v1h-3zM550 421h2v1h-2zM552 422h3v1h-3zM555 423h3v1h-3zM558 424h2v1h-2zM560 425h3v1h-3zM563 426h1v1h-1zM564 427h2v1h-2zM566 428h2v1h-2zM568 429h1v1h-1zM569 430h2v1h-2zM571 431h2v1h-2zM573 432h2v1h-2zM575 433h2v1h-2zM577 434h3v1h-3zM580 435h2v1h-2zM582 436h2v1h-2zM584 437h2v1h-2zM586 438h3v1h-3zM589 439h2v1h-2zM591 440h2v1h-2zM593 441h3v1h-3zM596 442h2v1h-2zM598 443h3v1h-3zM601 444h2v1h-2zM603 445h3v1h-3zM606 446h3v1h-3zM609 447h3v1h-3zM612 448h4v1h-4zM616 449h5v1h-5zM621 450h5v1h-5zM626 451h7v1h-7zM633 450h9v1h-9zM642 449h4v1h-4zM646 448h4v1h-4zM650 447h4v1h-4zM654 446h4v1h-4zM658 445h3v1h-3zM661 444h4v1h-4zM665 443h3v1h-3zM668 442h3v1h-3zM671 441h3v1h-3zM674 440h3v1h-3zM677 439h4v1h-4zM681 438h3v1h-3zM684 437h3v1h-3zM687 436h3v1h-3zM690 435h3v1h-3zM693 434h3v1h-3zM696 433h4v1h-4zM700 432h4v1h-4zM704 431h4v1h-4zM708 430h4v1h-4zM712 429h5v1h-5zM717 428h5v1h-5zM722 427h5v1h-5zM727 426h5v1h-5zM732 425h4v1h-4zM736 424h5v1h-5zM741 423h4v1h-4zM745 422h5v1h-5zM750 421h6v1h-6zM756 420h5v1h-5zM761 419h7v1h-7zM768 418h28v1h-28zM796 419h6v1h-6zM802 420h5v1h-5zM807 421h4v1h-4zM811 422h3v1h-3zM814 423h4v1h-4zM818 424h4v1h-4zM822 425h4v1h-4zM826 426h4v1h-4zM830 427h4v1h-4zM834 428h5v1h-5zM839 429h6v1h-6zM845 430h5v1h-5zM850 431h8v1h-8zM858 432h8v1h-8zM866 433h12v1h-12zM878 434h31v1h-31z" fill="#ff0000" shape-rendering="crispEdges"/>
<text transform="translate(8.6,405.8) scale(0.8772,1)" font-size="10.568" fill="#000" stroke="#000" stroke-width="0.2">MACD(12,26,9) -0.006229 -0.006133</text>
<rect x="1151" y="395" width="2" height="1" fill="#000"/>
<rect x="1151" y="409" width="2" height="1" fill="#000"/>
<rect x="1151" y="458" width="2" height="1" fill="#000"/>
<text transform="translate(1154.4,403.7) scale(0.8772,1)" font-size="10.146" fill="#000" stroke="#000" stroke-width="0.2">0.003408</text>
<text transform="translate(1154.4,412.8) scale(0.8772,1)" font-size="10.146" fill="#000" stroke="#000" stroke-width="0.2">0.00</text>
<text transform="translate(1154.4,455.4) scale(0.8772,1)" font-size="10.146" fill="#000" stroke="#000" stroke-width="0.2">-0.012059</text>
<line x1="4" y1="483.5" x2="1150" y2="483.5" stroke="#c0c0c0" stroke-width="1" stroke-dasharray="3 3" shape-rendering="crispEdges"/>
<line x1="4" y1="509.5" x2="1150" y2="509.5" stroke="#c0c0c0" stroke-width="1" stroke-dasharray="3 3" shape-rendering="crispEdges"/>
<path d="M4 503h2v1h-2zM6 502h2v1h-2zM8 501h2v1h-2zM10 500h2v1h-2zM12 499h3v1h-3zM15 498h2v1h-2zM17 497h2v1h-2zM19 496h3v1h-3zM22 497h1v1h-1zM23 498h2v1h-2zM25 499h1v1h-1zM26 500h1v1h-1zM27 501h1v1h-1zM28 502h10v1h-10zM38 501h3v1h-3zM41 500h2v1h-2zM43 499h4v1h-4zM47 498h7v1h-7zM54 497h3v1h-3zM57 496h3v1h-3zM60 495h10v1h-10zM70 496h5v1h-5zM75 497h4v1h-4zM79 496h5v1h-5zM84 495h13v1h-13zM97 496h5v1h-5zM102 495h2v1h-2zM104 494h2v1h-2zM106 493h2v1h-2zM108 492h2v1h-2zM110 493h2v1h-2zM112 494h2v1h-2zM114 495h2v1h-2zM116 496h1v1h-1zM117 495h2v1h-2zM119 494h2v1h-2zM121 493h1v1h-1zM122 492h2v1h-2zM124 491h7v1h-7zM131 492h3v1h-3zM134 493h1v1h-1zM135 494h2v1h-2zM137 495h1v1h-1zM138 496h2v1h-2zM140 497h2v1h-2zM142 498h5v1h-5zM147 499h3v1h-3zM150 498h4v1h-4zM154 497h9v1h-9zM163 498h3v1h-3zM166 497h1v1h-1zM167 496h2v1h-2zM169 495h2v1h-2zM171 494h1v1h-1zM172 493h5v1h-5zM177 494h6v1h-6zM183 495h4v1h-4zM187 496h4v1h-4zM191 495h2v1h-2zM193 494h2v1h-2zM195 493h3v1h-3zM198 492h1v1h-1zM199 491h2v1h-2zM201 490h2v1h-2zM203 489h1v1h-1zM204 488h4v1h-4zM208 487h7v1h-7zM215 488h2v1h-2zM217 489h1v1h-1zM218 490h2v1h-2zM220 491h18v1h-18zM238 492h1v1h-1zM239 493h1v1h-1zM240 494h1v1h-1zM241 495h1v1h-1zM242 496h2v1h-2zM244 497h1v1h-1zM245 498h2v1h-2zM247 497h9v1h-9zM256 498h4v1h-4zM260 499h2v1h-2zM262 498h4v1h-4zM266 497h17v1h-17zM283 498h5v1h-5zM288 499h4v1h-4zM292 500h2v1h-2zM294 501h2v1h-2zM296 502h2v1h-2zM298 503h2v1h-2zM300 504h2v1h-2zM302 505h2v1h-2zM304 506h1v1h-1zM305 507h2v1h-2zM307 508h1v1h-1zM308 509h17v1h-17zM325 508h1v1h-1zM326 507h1v1h-1zM327 506h1v1h-1zM328 505h1v1h-1zM329 504h1v1h-1zM330 503h1v1h-1zM331 502h1v1h-1zM332 501h2v1h-2zM334 500h2v1h-2zM336 499h3v1h-3zM339 498h3v1h-3zM342 497h4v1h-4zM346 496h3v1h-3zM349 495h1v1h-1zM350 494h1v1h-1zM351 493h1v1h-1zM352 492h1v1h-1zM353 491h1v1h-1zM354 490h1v1h-1zM355 489h1v1h-1zM356 488h2v1h-2zM358 487h6v1h-6zM364 486h10v1h-10zM374 487h6v1h-6zM380 488h4v1h-4zM384 489h4v1h-4zM388 490h13v1h-13zM401 491h4v1h-4zM405 492h2v1h-2zM407 493h1v1h-1zM408 494h2v1h-2zM410 495h1v1h-1zM411 496h2v1h-2zM413 497h1v1h-1zM414 496h4v1h-4zM418 495h4v1h-4zM422 496h2v1h-2zM424 497h2v1h-2zM426 498h2v1h-2zM428 499h2v1h-2zM430 498h2v1h-2zM432 497h2v1h-2zM434 496h2v1h-2zM436 495h5v1h-5zM441 494h10v1h-10zM451 495h5v1h-5zM456 496h4v1h-4zM460 497h7v1h-7zM467 498h8v1h-8zM475 499h3v1h-3zM478 498h4v1h-4zM482 497h6v1h-6zM488 498h4v1h-4zM492 499h2v1h-2zM494 500h1v1h-1zM495 501h1v1h-1zM496 502h1v1h-1zM497 503h1v1h-1zM498 504h1v1h-1zM499 505h2v1h-2zM501 506h1v1h-1zM502 505h1v1h-1zM503 504h1v1h-1zM504 503h1v1h-1zM505 502h2v1h-2zM507 501h1v1h-1zM508 500h2v1h-2zM510 501h2v1h-2zM512 502h2v1h-2zM514 503h2v1h-2zM516 504h3v1h-3zM519 503h4v1h-4zM523 502h3v1h-3zM526 503h2v1h-2zM528 504h2v1h-2zM530 505h2v1h-2zM532 506h10v1h-10zM542 507h4v1h-4zM546 508h3v1h-3zM549 509h2v1h-2zM551 510h2v1h-2zM553 511h2v1h-2zM555 512h2v1h-2zM557 513h5v1h-5zM562 514h12v1h-12zM574 513h3v1h-3zM577 512h2v1h-2zM579 511h2v1h-2zM581 510h1v1h-1zM582 508h1v2h-1zM583 507h1v1h-1zM584 506h1v1h-1zM585 504h1v2h-1zM586 503h1v1h-1zM587 501h1v2h-1zM588 500h3v1h-3zM591 501h3v1h-3zM594 502h3v1h-3zM597 503h2v1h-2zM599 504h3v1h-3zM602 505h2v1h-2zM604 506h4v1h-4zM608 505h7v1h-7zM615 504h6v1h-6zM621 503h8v1h-8zM629 502h2v1h-2zM631 501h3v1h-3zM634 500h2v1h-2zM636 499h3v1h-3zM639 498h2v1h-2zM641 497h2v1h-2zM643 496h5v1h-5zM648 497h4v1h-4zM652 498h15v1h-15zM667 499h16v1h-16zM683 500h16v1h-16zM699 501h12v1h-12zM711 500h6v1h-6zM717 499h2v1h-2zM719 498h1v1h-1zM720 497h1v1h-1zM721 496h2v1h-2zM723 495h1v1h-1zM724 494h2v1h-2zM726 493h2v1h-2zM728 492h2v1h-2zM730 491h2v1h-2zM732 490h2v1h-2zM734 491h2v1h-2zM736 492h1v1h-1zM737 493h2v1h-2zM739 494h2v1h-2zM741 495h3v1h-3zM744 496h4v1h-4zM748 497h10v1h-10zM758 498h2v1h-2zM760 499h2v1h-2zM762 500h2v1h-2zM764 501h3v1h-3zM767 502h2v1h-2zM769 503h3v1h-3zM772 504h11v1h-11zM783 505h4v1h-4zM787 506h4v1h-4zM791 505h4v1h-4zM795 504h20v1h-20zM815 505h2v1h-2zM817 506h3v1h-3zM820 507h2v1h-2zM822 506h1v1h-1zM823 505h1v1h-1zM824 504h1v1h-1zM825 503h2v1h-2zM827 502h1v1h-1zM828 501h2v1h-2zM830 502h2v1h-2zM832 503h2v1h-2zM834 504h2v1h-2zM836 505h19v1h-19zM855 506h4v1h-4zM859 507h4v1h-4zM863 506h4v1h-4zM867 505h3v1h-3zM870 504h2v1h-2zM872 503h2v1h-2zM874 502h2v1h-2zM876 501h6v1h-6zM882 502h5v1h-5zM887 503h4v1h-4zM891 504h4v1h-4zM895 503h4v1h-4zM899 502h3v1h-3zM902 503h2v1h-2zM904 504h2v1h-2zM906 505h2v1h-2zM908 506h1v1h-1z" fill="#1e90ff" shape-rendering="crispEdges"/>
<text transform="translate(8.6,473.3) scale(0.8772,1)" font-size="10.442" fill="#000" stroke="#000" stroke-width="0.2">RSI(14) 33.4442</text>
<text transform="translate(1154.6,471.7) scale(0.8772,1)" font-size="9.918" fill="#000" stroke="#000" stroke-width="0.2">100</text>
<text transform="translate(1154.6,486.7) scale(0.8772,1)" font-size="9.918" fill="#000" stroke="#000" stroke-width="0.2">70</text>
<text transform="translate(1154.6,512.5) scale(0.8772,1)" font-size="9.918" fill="#000" stroke="#000" stroke-width="0.2">30</text>
<text transform="translate(1154.6,526.8) scale(0.8772,1)" font-size="9.918" fill="#000" stroke="#000" stroke-width="0.2">0</text>
<rect x="4" y="531" width="1" height="3" fill="#000"/>
<text transform="translate(3.8,543.1) scale(0.8772,1)" font-size="10.146" fill="#000" stroke="#000" stroke-width="0.2">14 Dec 2021</text>
<rect x="68" y="531" width="1" height="3" fill="#000"/>
<text transform="translate(67.8,543.1) scale(0.8772,1)" font-size="10.146" fill="#000" stroke="#000" stroke-width="0.2">23 Dec 2021</text>
<rect x="132" y="531" width="1" height="3" fill="#000"/>
<text transform="translate(131.8,543.1) scale(0.8772,1)" font-size="10.146" fill="#000" stroke="#000" stroke-width="0.2">2 Jan 2022</text>
<rect x="196" y="531" width="1" height="3" fill="#000"/>
<text transform="translate(195.8,543.1) scale(0.8772,1)" font-size="10.146" fill="#000" stroke="#000" stroke-width="0.2">11 Jan 2022</text>
<rect x="260" y="531" width="1" height="3" fill="#000"/>
<text transform="translate(259.8,543.1) scale(0.8772,1)" font-size="10.146" fill="#000" stroke="#000" stroke-width="0.2">20 Jan 2022</text>
<rect x="324" y="531" width="1" height="3" fill="#000"/>
<text transform="translate(323.8,543.1) scale(0.8772,1)" font-size="10.146" fill="#000" stroke="#000" stroke-width="0.2">30 Jan 2022</text>
<rect x="388" y="531" width="1" height="3" fill="#000"/>
<text transform="translate(387.8,543.1) scale(0.8772,1)" font-size="10.146" fill="#000" stroke="#000" stroke-width="0.2">8 Feb 2022</text>
<rect x="452" y="531" width="1" height="3" fill="#000"/>
<text transform="translate(451.8,543.1) scale(0.8772,1)" font-size="10.146" fill="#000" stroke="#000" stroke-width="0.2">17 Feb 2022</text>
<rect x="516" y="531" width="1" height="3" fill="#000"/>
<text transform="translate(515.8,543.1) scale(0.8772,1)" font-size="10.146" fill="#000" stroke="#000" stroke-width="0.2">27 Feb 2022</text>
<rect x="580" y="531" width="1" height="3" fill="#000"/>
<text transform="translate(579.8,543.1) scale(0.8772,1)" font-size="10.146" fill="#000" stroke="#000" stroke-width="0.2">8 Mar 2022</text>
<rect x="644" y="531" width="1" height="3" fill="#000"/>
<text transform="translate(643.8,543.1) scale(0.8772,1)" font-size="10.146" fill="#000" stroke="#000" stroke-width="0.2">17 Mar 2022</text>
<rect x="708" y="531" width="1" height="3" fill="#000"/>
<text transform="translate(707.8,543.1) scale(0.8772,1)" font-size="10.146" fill="#000" stroke="#000" stroke-width="0.2">27 Mar 2022</text>
<rect x="772" y="531" width="1" height="3" fill="#000"/>
<text transform="translate(771.8,543.1) scale(0.8772,1)" font-size="10.146" fill="#000" stroke="#000" stroke-width="0.2">5 Apr 2022</text>
<rect x="836" y="531" width="1" height="3" fill="#000"/>
<text transform="translate(835.8,543.1) scale(0.8772,1)" font-size="10.146" fill="#000" stroke="#000" stroke-width="0.2">14 Apr 2022</text>
<rect x="900" y="531" width="1" height="3" fill="#000"/>
<text transform="translate(899.8,543.1) scale(0.8772,1)" font-size="10.146" fill="#000" stroke="#000" stroke-width="0.2">24 Apr 2022</text>
<rect x="0" y="551" width="1190" height="2" fill="#f5f5f5"/>
<rect x="0" y="553" width="1190" height="23" fill="#f0f0f0"/>
<rect x="0" y="573" width="1190" height="1" fill="#fafafa"/>
<rect x="0" y="574" width="1190" height="2" fill="#f3f3f3"/>
<rect x="0" y="553" width="1190" height="1" fill="#000"/>
<rect x="0" y="553" width="1" height="19" fill="#606060"/>
<rect x="106" y="552" width="106" height="20" fill="#fff"/>
<rect x="105" y="553" width="1" height="19" fill="#000"/>
<rect x="212" y="553" width="1" height="19" fill="#000"/>
<rect x="105" y="571" width="108" height="1" fill="#000"/>
<rect x="106" y="553" width="106" height="1" fill="#fff"/>
<text transform="translate(15.5,567.6) scale(0.9804,1)" font-size="12.444" fill="#7a7a7a" stroke="#7a7a7a" stroke-width="0.05">USDX,Weekly</text>
<text transform="translate(115.4,567.6) scale(0.9804,1)" font-size="12.291" fill="#000" stroke="#000" stroke-width="0.05">EURUSD-,Daily</text>
<text transform="translate(223,567.5) scale(0.9804,1)" font-size="12.240" fill="#7a7a7a" stroke="#7a7a7a" stroke-width="0.05" textLength="88.74" lengthAdjust="spacingAndGlyphs">AUDUSD-,Daily</text>
<text transform="translate(333.6,567.5) scale(0.9804,1)" font-size="12.240" fill="#7a7a7a" stroke="#7a7a7a" stroke-width="0.05" textLength="85.068" lengthAdjust="spacingAndGlyphs">USDCHF-,Daily</text>
<text transform="translate(440,567.5) scale(0.9804,1)" font-size="12.240" fill="#7a7a7a" stroke="#7a7a7a" stroke-width="0.05" textLength="87.312" lengthAdjust="spacingAndGlyphs">USDCAD-,Daily</text>
<text transform="translate(549.6,567.5) scale(0.9804,1)" font-size="12.240" fill="#7a7a7a" stroke="#7a7a7a" stroke-width="0.05" textLength="89.148" lengthAdjust="spacingAndGlyphs">USDCNH-,Daily</text>
<text transform="translate(661,567.5) scale(0.9804,1)" font-size="12.240" fill="#7a7a7a" stroke="#7a7a7a" stroke-width="0.05" textLength="86.598" lengthAdjust="spacingAndGlyphs">XAUUSD-,Daily</text>
<text transform="translate(768.6,567.5) scale(0.9804,1)" font-size="12.240" fill="#7a7a7a" stroke="#7a7a7a" stroke-width="0.05" textLength="57.834" lengthAdjust="spacingAndGlyphs">UKOil-,H4</text>
<text transform="translate(848.8,567.5) scale(0.9804,1)" font-size="12.240" fill="#7a7a7a" stroke="#7a7a7a" stroke-width="0.05" textLength="65.178" lengthAdjust="spacingAndGlyphs">DJ30-,Daily</text>
<text transform="translate(936.6,567.5) scale(0.9804,1)" font-size="12.240" fill="#7a7a7a" stroke="#7a7a7a" stroke-width="0.05" textLength="62.22" lengthAdjust="spacingAndGlyphs">UK100-,H1</text>
<text transform="translate(1021.9,567.5) scale(0.9804,1)" font-size="12.240" fill="#7a7a7a" stroke="#7a7a7a" stroke-width="0.05" textLength="54.876" lengthAdjust="spacingAndGlyphs">USOil-,H1</text>
<text transform="translate(1099.7,567.5) scale(0.9804,1)" font-size="12.240" fill="#7a7a7a" stroke="#7a7a7a" stroke-width="0.05" textLength="54.774" lengthAdjust="spacingAndGlyphs">HK50-,H1</text>
<rect x="321.5" y="557" width="1" height="13" fill="#8c8c8c"/>
<rect x="429.5" y="557" width="1" height="13" fill="#8c8c8c"/>
<rect x="536.5" y="557" width="1" height="13" fill="#8c8c8c"/>
<rect x="648.5" y="557" width="1" height="13" fill="#8c8c8c"/>
<rect x="756.5" y="557" width="1" height="13" fill="#8c8c8c"/>
<rect x="836.5" y="557" width="1" height="13" fill="#8c8c8c"/>
<rect x="924.5" y="557" width="1" height="13" fill="#8c8c8c"/>
<rect x="1008.5" y="557" width="1" height="13" fill="#8c8c8c"/>
<rect x="1087.5" y="557" width="1" height="13" fill="#8c8c8c"/>
<polygon points="1165.3,562 1169,558.6 1169,565.4" fill="#9a9a9a"/>
<polygon points="1188.7,562 1185,558.3 1185,565.7" fill="#000"/></svg></body></html>
